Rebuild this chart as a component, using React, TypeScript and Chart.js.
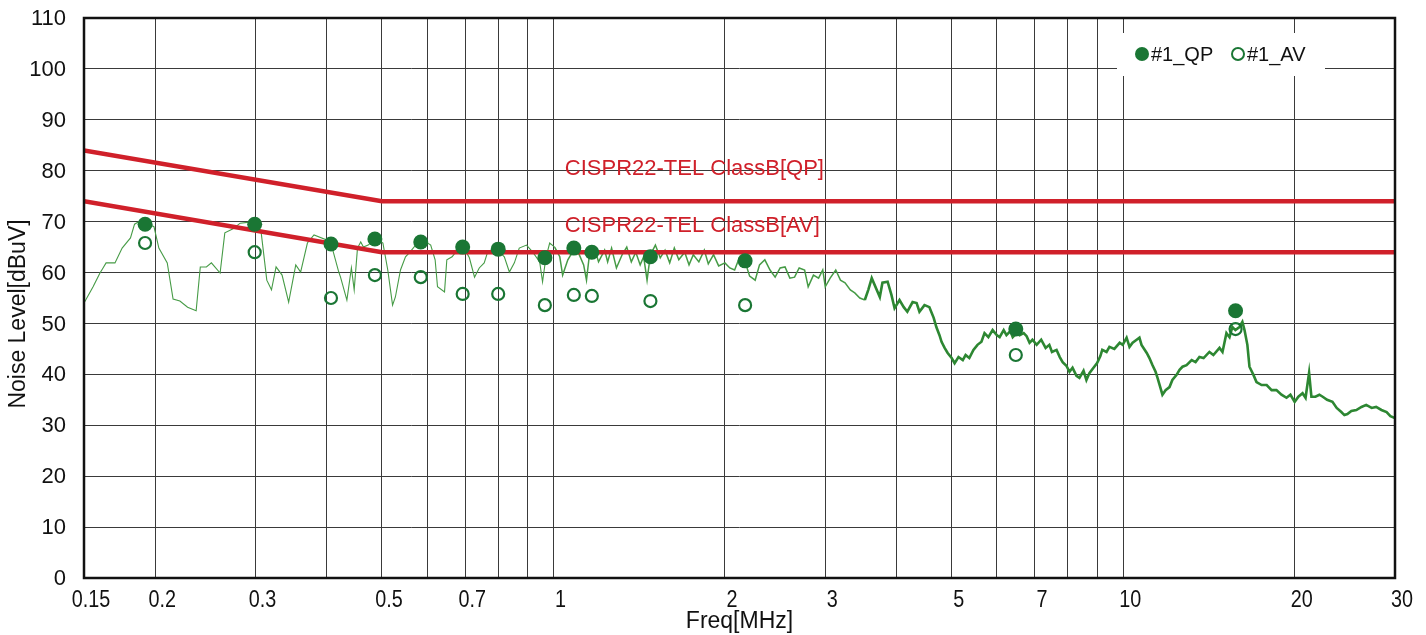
import React, { useEffect, useRef } from "react";
import { Chart, registerables } from "chart.js";

Chart.register(...registerables);

// ---- axis ticks ----
const X_GRID_FREQS = [0.15, 0.2, 0.3, 0.4, 0.5, 0.6, 0.7, 0.8, 0.9, 1, 2, 3, 4, 5, 6, 7, 8, 9, 10, 20, 30];
const X_LABEL_FREQS = [0.15, 0.2, 0.3, 0.5, 0.7, 1, 2, 3, 5, 7, 10, 20, 30];
const Y_TICKS = [0, 10, 20, 30, 40, 50, 60, 70, 80, 90, 100, 110];
const Y_MIN = 0;
const Y_MAX = 110;
const Y_STEP = 10;

// ---- limit lines ----
const LIMIT_FREQ = [0.15, 0.5, 30];
const LIMIT_QP = [84, 74, 74];
const LIMIT_AV = [74, 64, 64];
const LIMIT_QP_NAME = "CISPR22-TEL ClassB[QP]";
const LIMIT_AV_NAME = "CISPR22-TEL ClassB[AV]";
const LIMIT_LABEL_FREQ = 1.047;
const LIMIT_QP_LABEL_LEVEL = 80.4;
const LIMIT_AV_LABEL_LEVEL = 69.2;

// ---- measured markers ----
const MARK_FREQ = [0.192, 0.299, 0.407, 0.486, 0.585, 0.693, 0.8, 0.966, 1.086, 1.168, 1.48, 2.17, 6.48, 15.75];
const QP_LEVEL = [69.5, 69.5, 65.6, 66.6, 66.0, 65.0, 64.6, 62.9, 64.8, 64.0, 63.1, 62.3, 48.9, 52.5];
const AV_LEVEL = [65.8, 64.0, 55.0, 59.5, 59.1, 55.8, 55.8, 53.6, 55.6, 55.4, 54.4, 53.6, 43.8, 48.9];

// ---- spectrum trace ----
const TRACE_FREQ = [
  0.15, 0.1556, 0.16, 0.162, 0.164, 0.166, 0.17, 0.175, 0.181, 0.184, 0.188, 0.192, 0.195, 0.199,
  0.203, 0.21, 0.215, 0.221, 0.228, 0.236, 0.24, 0.246, 0.251, 0.26, 0.265, 0.274, 0.282, 0.293,
  0.301, 0.307, 0.314, 0.32, 0.326, 0.334, 0.343, 0.353, 0.36, 0.37, 0.38, 0.4, 0.41, 0.42, 0.423,
  0.434, 0.442, 0.447, 0.453, 0.459, 0.464, 0.473, 0.488, 0.502, 0.512, 0.522, 0.528, 0.539, 0.55,
  0.56, 0.577, 0.59, 0.609, 0.62, 0.626, 0.644, 0.65, 0.664, 0.678, 0.7, 0.712, 0.727, 0.741, 0.756,
  0.766, 0.781, 0.805, 0.82, 0.837, 0.854, 0.871, 0.897, 0.92, 0.946, 0.957, 0.97, 0.985, 1.005,
  1.026, 1.038, 1.06, 1.09,
  1.11, 1.13, 1.143, 1.155, 1.183, 1.2, 1.23, 1.245, 1.265, 1.29, 1.32, 1.345, 1.37, 1.395, 1.42,
  1.44, 1.46, 1.48, 1.51, 1.54, 1.57, 1.6, 1.63, 1.66, 1.7, 1.73, 1.76, 1.8, 1.84, 1.87, 1.91, 1.95,
  2.0, 2.04, 2.08, 2.12, 2.17, 2.21, 2.26, 2.3, 2.35, 2.4, 2.45, 2.5, 2.55, 2.6, 2.65, 2.7, 2.76,
  2.8, 2.86, 2.92, 2.97, 3.0, 3.06, 3.13, 3.19, 3.25, 3.32, 3.38, 3.45, 3.52, 3.57, 3.62,
  3.74, 3.78, 3.86, 3.92, 3.97, 4.05, 4.12, 4.18, 4.27, 4.34, 4.39, 4.48, 4.57, 4.65, 4.7, 4.76,
  4.8, 4.86, 4.92, 5.0, 5.06, 5.14, 5.23, 5.29, 5.37, 5.46, 5.55, 5.64, 5.71, 5.8, 5.9, 6.0, 6.07,
  6.17, 6.24, 6.34, 6.4, 6.5, 6.58, 6.69, 6.77, 6.85, 6.93, 7.05, 7.18, 7.31, 7.42, 7.5, 7.64, 7.74,
  7.83, 7.95, 8.05, 8.15, 8.28, 8.38, 8.52, 8.62, 8.73, 8.87, 9.0, 9.12, 9.19, 9.35, 9.46, 9.65,
  9.86, 9.98, 10.14, 10.26, 10.39, 10.56, 10.68, 10.77, 11.0, 11.12, 11.26, 11.4, 11.49, 11.63,
  11.72, 11.87, 12.06, 12.2, 12.41, 12.56, 12.71, 12.92, 13.19, 13.4, 13.61, 13.84, 14.17, 14.4,
  14.76, 14.94, 15.18, 15.37, 15.55, 15.74, 16.0, 16.19, 16.33, 16.52, 16.66, 16.93, 17.14, 17.5,
  17.86, 18.22, 18.58, 18.96, 19.35, 19.66, 20.0, 20.3, 20.65, 20.9, 21.2, 21.4, 21.75, 22.1, 22.4,
  22.8, 23.3, 23.7, 24.15, 24.45, 24.75, 25.15, 25.66, 26.2, 26.7, 27.3, 27.8, 28.4, 29.0, 29.45, 30.0,
];
const TRACE_LEVEL = [
  54.0, 57.2, 59.9, 60.9, 61.9, 61.9, 61.9, 64.8, 66.8, 69.5, 70.1, 69.9, 69.5, 69.0,
  64.8, 61.9, 54.8, 54.4, 53.2, 52.5, 61.1, 61.1, 61.9, 59.9, 67.8, 68.6, 69.7, 69.9,
  70.3, 67.8, 58.5, 56.6, 61.1, 59.5, 54.2, 61.5, 60.1, 65.8, 67.4, 66.4, 64.4, 60.1, 59.1,
  54.6, 60.9, 56.6, 64.8, 66.0, 65.0, 65.4, 66.8, 65.8, 60.5, 53.6, 55.2, 60.5, 63.1,
  64.0, 65.8, 66.4, 65.4, 62.5, 57.2, 56.2, 62.5, 63.1, 64.4, 64.4, 62.9, 59.1, 60.9, 61.9,
  63.9, 64.2, 64.0, 63.1, 60.1, 61.9, 64.8, 65.4, 64.0, 62.1, 58.2, 62.9, 65.8, 65.0,
  63.1, 59.5, 62.5, 64.8,
  63.5, 61.5, 58.5, 62.9, 64.4, 62.1, 64.4, 62.1, 64.8, 60.9, 63.5, 65.0, 62.1, 64.0, 61.5,
  63.1, 58.5, 63.5, 65.4, 62.9, 64.4, 61.9, 64.8, 62.5, 64.0, 61.5, 63.5, 62.1, 64.4, 61.7, 63.5, 61.3,
  61.9, 60.9, 60.5, 62.9, 62.1, 59.3, 58.5, 61.5, 62.5, 60.5, 59.1, 60.9, 61.1, 58.9, 59.1, 60.9, 60.5,
  57.2, 59.5, 58.9, 60.5, 57.2, 58.9, 60.5, 58.5, 58.0, 56.6, 56.0, 55.0, 54.6, 56.6, 58.9,
  55.2, 58.0, 58.2, 55.6, 53.0, 54.6, 53.2, 52.3, 54.2, 54.0, 52.3, 53.6, 53.2, 51.1, 49.3, 47.7,
  46.4, 45.2, 44.2, 43.2, 42.2, 43.4, 42.8, 43.8, 43.2, 44.8, 45.8, 46.4, 48.1, 47.3, 48.7, 47.7, 47.3,
  48.7, 47.7, 48.5, 47.3, 48.1, 47.7, 48.1, 47.5, 46.2, 46.8, 45.8, 46.8, 45.2, 45.8, 44.4, 44.8, 43.4,
  42.4, 41.7, 40.5, 41.3, 39.7, 39.3, 40.7, 38.9, 40.3, 41.3, 42.2, 43.6, 44.8, 44.4, 45.4, 45.0,
  46.2, 45.8, 47.2, 45.4, 46.2, 46.8, 47.2, 45.8, 44.2, 43.2, 41.8, 40.5, 39.3, 37.3,
  36.0, 36.9, 37.5, 38.9, 39.9, 40.9, 41.5, 41.8, 42.8, 42.4, 43.4, 43.2, 44.4, 43.8,
  45.2, 44.4, 48.1, 47.3, 49.3, 48.7, 49.3, 50.3, 48.7, 45.8, 41.5, 39.9, 38.5, 37.9,
  37.9, 36.9, 36.9, 36.0, 35.4, 36.0, 34.6, 35.6, 36.3, 35.4, 40.3, 35.6, 35.6, 36.0, 35.6,
  35.0, 34.6, 33.4, 32.6, 32.0, 32.2, 32.8, 33.0, 33.6, 34.0, 33.4, 33.6, 33.0, 32.6, 31.8, 31.4,
];

const LEGEND_QP = "#1_QP";
const LEGEND_AV = "#1_AV";
const X_TITLE = "Freq[MHz]";
const Y_TITLE = "Noise Level[dBuV]";

const GREEN_TRACE = "rgb(70,155,70)";
const GREEN_TRACE_DENSE = "rgb(45,135,50)";
const GREEN_MARK = "rgb(26,118,52)";
const RED = "rgb(208,32,42)";
const GRID = "#3a3a3a";
const SANS = "'Liberation Sans', Arial, sans-serif";

const zip = (xs: number[], ys: number[]) => xs.map((x, i) => ({ x, y: ys[i] }));

const overlayPlugin = {
  id: "overlay",
  afterDatasetsDraw(chart: any) {
    const { ctx, chartArea, scales } = chart;
    const xs = scales.x;
    const ys = scales.y;
    ctx.save();
    // limit labels
    ctx.fillStyle = RED;
    ctx.font = `22px ${SANS}`;
    ctx.textAlign = "left";
    ctx.textBaseline = "middle";
    ctx.fillText(LIMIT_QP_NAME, xs.getPixelForValue(LIMIT_LABEL_FREQ), ys.getPixelForValue(LIMIT_QP_LABEL_LEVEL));
    ctx.fillText(LIMIT_AV_NAME, xs.getPixelForValue(LIMIT_LABEL_FREQ), ys.getPixelForValue(LIMIT_AV_LABEL_LEVEL));

    // legend box
    ctx.fillStyle = "#ffffff";
    ctx.fillRect(1117, 33, 208, 43);
    ctx.fillStyle = GREEN_MARK;
    ctx.beginPath();
    ctx.arc(1142, 54, 7, 0, Math.PI * 2);
    ctx.fill();
    ctx.strokeStyle = GREEN_MARK;
    ctx.lineWidth = 2;
    ctx.beginPath();
    ctx.arc(1238, 54, 6, 0, Math.PI * 2);
    ctx.stroke();
    ctx.fillStyle = "#111";
    ctx.font = `20px ${SANS}`;
    ctx.textBaseline = "middle";
    ctx.fillText(LEGEND_QP, 1151, 55);
    ctx.fillText(LEGEND_AV, 1247, 55);

    // frame
    ctx.strokeStyle = "#111";
    ctx.lineWidth = 2.5;
    ctx.strokeRect(chartArea.left, chartArea.top, chartArea.right - chartArea.left, chartArea.bottom - chartArea.top);

    // y tick labels
    ctx.fillStyle = "#111";
    ctx.font = `22px ${SANS}`;
    ctx.textAlign = "right";
    ctx.textBaseline = "middle";
    Y_TICKS.forEach((v) => {
      ctx.fillText(String(v), chartArea.left - 18, ys.getPixelForValue(v) + 1);
    });

    // x tick labels (condensed look)
    ctx.font = `23px ${SANS}`;
    ctx.textAlign = "center";
    ctx.textBaseline = "top";
    X_LABEL_FREQS.forEach((f) => {
      const px = xs.getPixelForValue(f) + 7;
      ctx.save();
      ctx.translate(px, chartArea.bottom + 11);
      ctx.scale(0.86, 1);
      ctx.fillText(String(f), 0, 0);
      ctx.restore();
    });

    // axis titles
    ctx.font = `23px ${SANS}`;
    ctx.textAlign = "center";
    ctx.textBaseline = "middle";
    ctx.fillText(X_TITLE, (chartArea.left + chartArea.right) / 2, 622);
    ctx.translate(19, 314);
    ctx.rotate(-Math.PI / 2);
    ctx.fillText(Y_TITLE, 0, 0);
    ctx.restore();
  },
};

export default function App() {
  const ref = useRef<HTMLCanvasElement | null>(null);
  useEffect(() => {
    if (!ref.current) return;
    const chart = new Chart(ref.current, {
      type: "scatter",
      data: {
        datasets: [
          {
            label: "QP",
            data: zip(MARK_FREQ, QP_LEVEL),
            pointRadius: 7.5,
            pointBackgroundColor: GREEN_MARK,
            pointBorderColor: GREEN_MARK,
            pointBorderWidth: 0,
            showLine: false,
            order: 0,
          },
          {
            label: "AV",
            data: zip(MARK_FREQ, AV_LEVEL),
            pointRadius: 6,
            pointBackgroundColor: "rgba(0,0,0,0)",
            pointBorderColor: GREEN_MARK,
            pointBorderWidth: 2.2,
            showLine: false,
            order: 1,
          },
          {
            label: "LimitQP",
            data: zip(LIMIT_FREQ, LIMIT_QP),
            showLine: true,
            borderColor: RED,
            borderWidth: 4.5,
            pointRadius: 0,
            order: 2,
          },
          {
            label: "LimitAV",
            data: zip(LIMIT_FREQ, LIMIT_AV),
            showLine: true,
            borderColor: RED,
            borderWidth: 4.5,
            pointRadius: 0,
            order: 3,
          },
          {
            label: "Trace",
            data: zip(TRACE_FREQ, TRACE_LEVEL),
            showLine: true,
            borderColor: GREEN_TRACE,
            borderWidth: 1.1,
            pointRadius: 0,
            order: 4,
            segment: {
              borderWidth: (c: any) => (c.p0.parsed.x >= 3.5 ? 2.6 : c.p0.parsed.x >= 1 ? 1.5 : 1.1),
              borderColor: (c: any) => (c.p0.parsed.x >= 3.5 ? GREEN_TRACE_DENSE : GREEN_TRACE),
            },
          } as any,
        ],
      },
      options: {
        responsive: false,
        animation: false,
        layout: { padding: { top: 18, right: 31, left: 0, bottom: 0 } },
        plugins: { legend: { display: false }, tooltip: { enabled: false } },
        scales: {
          x: {
            type: "logarithmic",
            min: 0.15,
            max: 30,
            afterBuildTicks: (axis: any) => {
              axis.ticks = X_GRID_FREQS.map((v) => ({ value: v }));
            },
            afterFit: (s: any) => {
              s.height = 57;
            },
            ticks: { display: false, autoSkip: false, maxRotation: 0, minRotation: 0 },
            grid: { color: GRID, lineWidth: 1, drawTicks: false },
            border: { display: false },
          },
          y: {
            min: Y_MIN,
            max: Y_MAX,
            afterFit: (s: any) => {
              s.width = 84;
            },
            ticks: { display: false, stepSize: Y_STEP },
            grid: { color: GRID, lineWidth: 1, drawTicks: false },
            border: { display: false },
          },
        },
      },
      plugins: [overlayPlugin],
    });
    return () => chart.destroy();
  }, []);
  return (
    <div style={{ position: "absolute", left: 0, top: 0, width: 1426, height: 635, background: "#fff" }}>
      <canvas ref={ref} width={1426} height={635} style={{ display: "block", width: 1426, height: 635 }} />
    </div>
  );
}
